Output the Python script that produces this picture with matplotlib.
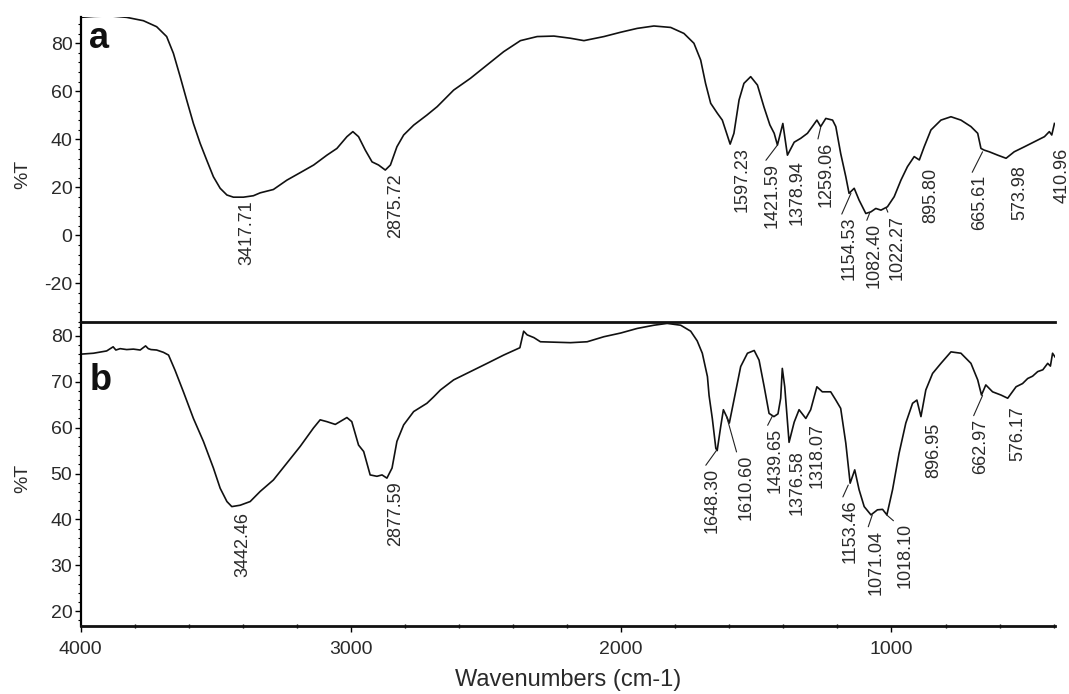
import matplotlib
matplotlib.use('Agg')
import matplotlib.pyplot as plt
from matplotlib.ticker import MultipleLocator

plt.rcParams['font.family'] = ['Liberation Sans', 'DejaVu Sans']
plt.rcParams['axes.unicode_minus'] = False

# spectrum a (top)
wn_a = [4000, 3950, 3891, 3830, 3768, 3719, 3682, 3657, 3632, 3608, 3583, 3558,
        3534, 3509, 3484, 3459, 3435, 3398, 3361, 3336, 3287, 3237, 3188, 3138,
        3089, 3052, 3015, 2993, 2972, 2947, 2922, 2898, 2873, 2854, 2830, 2805,
        2768, 2719, 2681, 2620, 2558, 2496, 2435, 2373, 2311, 2249, 2188, 2138,
        2064, 2002, 1941, 1879, 1817, 1768, 1731, 1706, 1688, 1669, 1644, 1626,
        1610, 1597, 1583, 1564, 1546, 1521, 1496, 1472, 1450, 1434, 1422, 1402,
        1385, 1360, 1336, 1311, 1293, 1276, 1262, 1243, 1218, 1206, 1188, 1169,
        1157, 1138, 1120, 1095, 1076, 1058, 1039, 1015, 990, 965, 941, 916, 897,
        879, 854, 817, 780, 743, 706, 681, 669, 657, 638, 607, 576, 546, 508,
        471, 434, 416, 407, 397]
t_a = [90.8, 91.2, 91.4, 90.8, 89.4, 86.9, 82.8, 75.8, 66.1, 56.4, 46.6, 38.3,
       31.4, 24.4, 19.6, 16.8, 15.9, 15.9, 16.5, 17.7, 19.1, 23.0, 26.1, 29.3,
       33.4, 36.2, 41.1, 43.2, 41.1, 35.5, 30.6, 29.3, 27.2, 29.3, 36.9, 41.8,
       45.9, 50.1, 53.6, 60.5, 65.4, 71.0, 76.5, 81.1, 82.8, 83.0, 82.1, 81.1,
       82.8, 84.6, 86.2, 87.2, 86.6, 84.1, 80.0, 73.0, 63.3, 55.0, 50.8, 48.0,
       42.5, 38.0, 42.5, 56.4, 63.3, 66.1, 62.6, 53.5, 46.0, 42.5, 37.6, 46.6,
       33.4, 38.8, 40.4, 42.5, 45.3, 48.0, 45.3, 48.7, 48.0, 45.3, 34.1, 24.4,
       17.5, 19.6, 14.7, 9.1, 9.8, 11.2, 10.5, 11.9, 16.1, 23.0, 28.6, 32.8, 31.4,
       36.9, 43.9, 48.0, 49.4, 48.0, 45.3, 42.5, 36.2, 35.5, 34.8, 33.4, 32.1,
       34.8, 36.9, 39.0, 41.1, 43.2, 41.8, 46.6]

# spectrum b (bottom)
wn_b = [4000, 3953, 3904, 3880, 3870, 3854, 3830, 3805, 3780, 3760, 3750, 3740,
        3719, 3694, 3675, 3651, 3620, 3583, 3546, 3509, 3484, 3459, 3441, 3410,
        3373, 3336, 3287, 3237, 3188, 3139, 3114, 3089, 3058, 3015, 2997, 2972,
        2953, 2929, 2904, 2885, 2867, 2848, 2830, 2805, 2768, 2719, 2694, 2669,
        2620, 2558, 2496, 2435, 2375, 2367, 2361, 2348, 2323, 2299, 2249, 2188,
        2126, 2064, 2002, 1941, 1879, 1830, 1780, 1743, 1719, 1700, 1681, 1675,
        1663, 1650, 1645, 1632, 1622, 1610, 1600, 1583, 1558, 1533, 1508, 1490,
        1471, 1453, 1435, 1420, 1410, 1404, 1395, 1379, 1360, 1342, 1317, 1299,
        1276, 1256, 1225, 1206, 1188, 1169, 1153, 1136, 1120, 1101, 1076, 1052,
        1033, 1017, 996, 972, 947, 922, 906, 891, 873, 848, 817, 780, 743, 706,
        681, 667, 651, 626, 595, 570, 539, 515, 496, 478, 459, 440, 422, 412,
        404, 395]
t_b = [76.0, 76.2, 76.7, 77.6, 76.9, 77.2, 77.0, 77.1, 76.9, 77.8, 77.2, 77.0,
       76.9, 76.4, 75.8, 72.5, 67.8, 62.0, 57.0, 51.2, 46.8, 43.9, 42.8, 43.1,
       43.9, 46.1, 48.6, 52.3, 55.9, 59.9, 61.7, 61.3, 60.7, 62.2, 61.3, 56.2,
       54.8, 49.7, 49.4, 49.7, 49.0, 51.2, 57.0, 60.6, 63.5, 65.3, 66.7, 68.2,
       70.4, 72.2, 74.0, 75.8, 77.4, 79.4, 81.0, 80.2, 79.6, 78.7, 78.6, 78.5,
       78.7, 79.8, 80.6, 81.6, 82.3, 82.7, 82.3, 81.0, 78.9, 76.2, 71.1, 67.0,
       62.0, 55.5, 55.0, 60.2, 63.9, 62.4, 61.0, 66.0, 73.3, 76.2, 76.8, 74.7,
       68.9, 63.1, 62.4, 63.0, 66.4, 72.9, 68.9, 56.8, 61.2, 63.9, 62.0, 63.9,
       68.9, 67.8, 67.8, 66.0, 64.2, 56.6, 47.9, 50.8, 46.5, 42.8, 41.0, 42.1,
       42.2, 41.0, 46.5, 54.4, 61.0, 65.3, 66.0, 62.4, 68.2, 71.8, 74.0, 76.5,
       76.2, 74.0, 70.4, 67.1, 69.3, 67.8, 67.1, 66.4, 68.9, 69.6, 70.7, 71.2,
       72.2, 72.6, 74.0, 73.4, 76.2, 75.4]

# peak labels: (text, text x, text y, leader target or None)
peaks_a = [('3417.71', 3385, 14.7, None), ('2875.72', 2836, 26.0, None),
           ('1597.23', 1552, 36.9, None), ('1421.59', 1441, 30.1, (1422, 37.6)),
           ('1378.94', 1348, 31.4, None), ('1259.06', 1243, 39.0, (1262, 45.0)),
           ('1154.53', 1157, 7.7, (1150, 17.5)), ('1082.40', 1064, 5.1, (1080, 9.5)),
           ('1022.27', 978, 8.5, (1020, 11.5)), ('895.80', 854, 28.0, None),
           ('665.61', 675, 25.1, (663, 34.8)), ('573.98', 527, 29.3, None),
           ('410.96', 368, 36.4, None)]
peaks_b = [('3442.46', 3400, 41.7, None), ('2877.59', 2836, 48.3, None),
           ('1648.30', 1663, 51.2, (1648, 55.0)), ('1610.60', 1539, 54.1, (1610, 62.4)),
           ('1439.65', 1432, 59.9, (1440, 62.6)), ('1376.58', 1348, 55.2, None),
           ('1318.07', 1274, 61.0, None), ('1153.46', 1153, 44.3, (1160, 47.5)),
           ('1071.04', 1058, 37.8, (1071, 41.0)), ('1018.10', 951, 39.2, (1018, 41.0)),
           ('896.95', 842, 61.0, None), ('662.97', 669, 62.0, (663, 67.0)),
           ('576.17', 533, 64.6, None)]

fig = plt.figure(figsize=(10.69, 6.94), dpi=100)
ax_b = fig.add_axes([0.0755, 0.098, 0.9114, 0.438])
ax_a = fig.add_axes([0.0755, 0.536, 0.9114, 0.439])
ax_a.patch.set_alpha(0)

txt_col = '#2a2a2a'
for ax in (ax_a, ax_b):
  ax.set_xlim(4000, 395)
  for s in ('top', 'right'):
    ax.spines[s].set_visible(False)
  ax.spines['left'].set_linewidth(1.6)
  ax.spines['bottom'].set_linewidth(2.0)
  ax.spines['bottom'].set_color('#111111')
  ax.tick_params(axis='y', which='major', direction='out', length=4, width=1,
                 labelsize=14, labelcolor=txt_col, pad=2)
  ax.tick_params(axis='y', which='minor', direction='out', length=2, width=0.8)
  ax.set_ylabel('%T', fontsize=14, color=txt_col)

ax_a.plot(wn_a, t_a, color='#111111', lw=1.2)
ax_b.plot(wn_b, t_b, color='#111111', lw=1.2)

ax_a.set_ylim(-36.1, 90.8)
ax_a.set_yticks([-20, 0, 20, 40, 60, 80])
ax_a.yaxis.set_minor_locator(MultipleLocator(4))
ax_a.tick_params(axis='x', which='both', bottom=False, labelbottom=False)

ax_b.set_ylim(16.8, 83.0)
ax_b.set_yticks([20, 30, 40, 50, 60, 70, 80])
ax_b.yaxis.set_minor_locator(MultipleLocator(2))
ax_b.set_xticks([4000, 3000, 2000, 1000])
ax_b.xaxis.set_minor_locator(MultipleLocator(200))
ax_b.tick_params(axis='x', which='major', direction='out', length=4, width=1,
                 labelsize=14, labelcolor=txt_col, pad=7)
ax_b.tick_params(axis='x', which='minor', direction='inout', length=3, width=1)
ax_b.set_xlabel('Wavenumbers (cm-1)', fontsize=17, color=txt_col, labelpad=8)

ax_a.yaxis.set_label_coords(-0.051, 0.486)
ax_b.yaxis.set_label_coords(-0.051, 0.485)

ax_a.text(0.008, 0.899, 'a', transform=ax_a.transAxes, fontsize=26,
          fontweight='bold', color='#111111', va='baseline')
ax_b.text(0.009, 0.776, 'b', transform=ax_b.transAxes, fontsize=26,
          fontweight='bold', color='#111111', va='baseline')

for ax, peaks in ((ax_a, peaks_a), (ax_b, peaks_b)):
  for label, x, y, target in peaks:
    if target is None:
      ax.text(x, y, label, rotation=90, ha='center', va='top', fontsize=13,
              color=txt_col, clip_on=False)
    else:
      ax.annotate(label, xy=target, xytext=(x, y), rotation=90, ha='center',
                  va='top', fontsize=13, color=txt_col, annotation_clip=False,
                  arrowprops=dict(arrowstyle='-', color='#222222', lw=0.8,
                                  shrinkA=0, shrinkB=0, relpos=(0.0, 1.0)))

fig.savefig('out.png', dpi=100)
